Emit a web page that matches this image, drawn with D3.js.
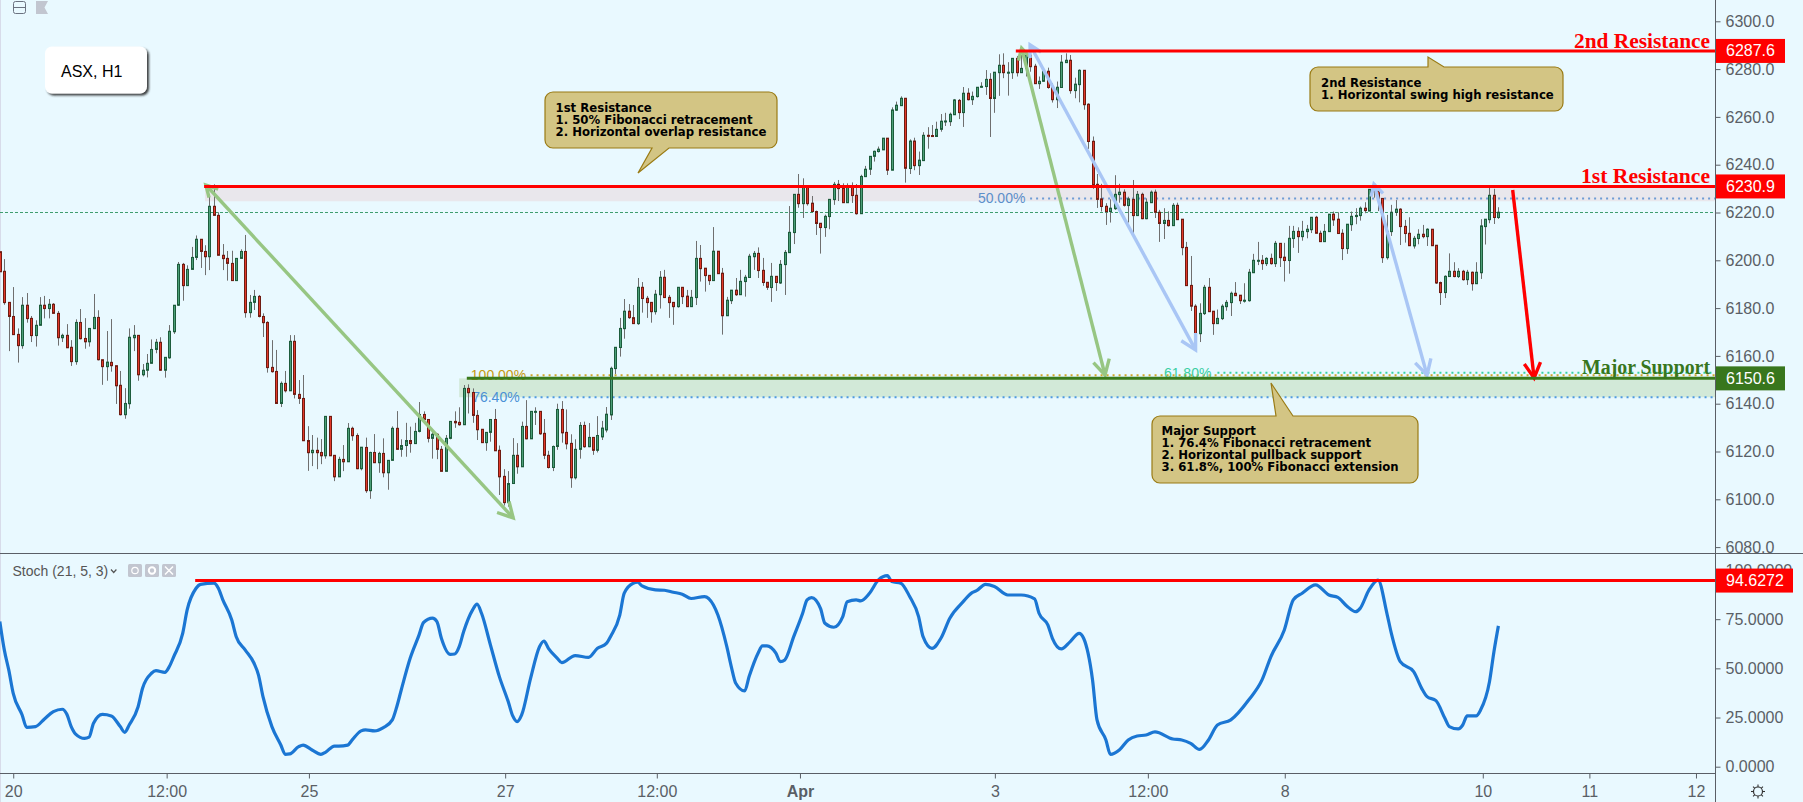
<!DOCTYPE html>
<html>
<head>
<meta charset="utf-8">
<script src="https://d3js.org/d3.v7.min.js"></script>
<style>
    html, body { margin: 0; padding: 0; background: #e9f9ff; overflow: hidden; }
    svg { display: block; }
    text { font-family: "Liberation Sans", Arial, sans-serif; }
</style>
</head>
<body>
<svg id="chart" width="1803" height="802"></svg>
<script>
// Hourly candles
const barOpen = [
6203.6,6195.4,6182.4,6176.5,6169.0,6164.3,6181.2,6175.7,6168.5,6172.8,
6181.2,6179.8,6181.6,6177.8,6167.6,6168.6,6163.6,6157.6,6174.0,6167.3,
6165.9,6171.4,6176.1,6158.4,6155.5,6157.3,6155.9,6147.7,6135.4,6140.0,
6167.6,6168.6,6152.1,6154.0,6156.9,6162.7,6165.7,6154.0,6159.2,6170.1,
6181.2,6198.3,6189.4,6196.2,6201.2,6208.8,6203.7,6201.5,6222.6,6218.8,
6202.1,6200.8,6198.7,6191.5,6200.8,6203.7,6178.1,6182.4,6184.9,6176.5,
6174.0,6155.2,6153.5,6140.1,6148.5,6145.4,6166.1,6143.9,6142.2,6124.6,
6119.5,6120.5,6119.6,6118.2,6134.7,6118.4,6109.4,6116.7,6115.7,6129.7,
6126.7,6112.8,6121.7,6103.6,6119.6,6115.3,6119.2,6111.1,6116.3,6129.7,
6120.9,6122.5,6124.6,6123.3,6128.4,6135.5,6133.4,6125.5,6127.2,6120.9,
6111.7,6125.5,6132.6,6132.2,6131.2,6146.4,6144.7,6135.1,6129.3,6123.7,
6128.0,6133.4,6120.5,6109.6,6098.6,6106.6,6118.4,6113.6,6130.5,6125.3,
6136.6,6136.8,6127.6,6118.4,6113.3,6122.1,6137.6,6128.0,6123.4,6109.0,
6120.9,6130.9,6122.0,6125.9,6120.5,6126.1,6129.0,6135.3,6154.7,6163.5,
6171.4,6178.7,6176.0,6173.5,6188.7,6184.1,6182.4,6178.5,6185.6,6192.9,
6184.5,6182.4,6180.6,6188.7,6185.0,6180.6,6184.4,6200.8,6196.7,6193.7,
6191.5,6203.8,6194.6,6176.8,6183.1,6187.5,6185.6,6191.1,6192.8,6201.5,
6202.9,6195.8,6190.8,6188.6,6193.3,6190.5,6198.2,6203.2,6211.6,6227.6,
6223.7,6230.5,6223.9,6220.4,6215.5,6213.7,6218.3,6225.4,6231.8,6230.1,
6224.1,6231.0,6227.2,6219.5,6235.0,6238.1,6243.5,6245.5,6246.2,6251.1,
6237.7,6262.8,6264.7,6267.8,6238.4,6249.9,6239.6,6241.7,6252.3,6252.2,
6251.8,6254.8,6258.0,6258.0,6260.9,6266.9,6261.8,6269.9,6267.2,6268.5,
6272.4,6272.7,6275.7,6267.7,6278.5,6281.6,6278.5,6278.5,6284.5,6278.5,
6280.3,6285.8,6281.2,6273.9,6274.9,6279.1,6272.4,6267.2,6272.3,6282.7,
6283.7,6271.0,6273.5,6279.5,6265.3,6249.8,6231.8,6225.7,6222.6,6220.4,
6221.6,6227.5,6228.5,6222.9,6225.5,6218.7,6227.6,6217.4,6224.1,6228.5,
6220.1,6215.4,6216.7,6214.5,6223.0,6217.2,6205.4,6189.5,6180.8,6169.3,
6177.7,6188.7,6178.7,6173.5,6175.6,6180.6,6182.3,6186.2,6185.4,6183.1,
6183.1,6194.8,6199.9,6200.0,6198.6,6200.8,6198.6,6207.1,6201.3,6199.9,
6209.1,6212.1,6209.9,6212.0,6212.8,6218.0,6211.3,6207.8,6212.0,6219.3,
6217.2,6211.3,6204.9,6214.9,6218.3,6218.7,6221.8,6220.6,6229.7,6228.9,
6225.9,6201.1,6212.0,6220.0,6221.4,6214.2,6211.3,6206.0,6209.1,6210.9,
6209.9,6213.0,6206.3,6190.7,6186.5,6193.2,6195.4,6193.2,6195.4,6191.9,
6195.0,6190.2,6194.8,6214.1,6217.0,6227.2,6217.9];

const barClose = [
6195.2,6182.3,6176.5,6168.9,6164.3,6181.2,6175.6,6168.5,6172.8,6181.2,
6179.8,6181.6,6177.8,6167.6,6168.6,6163.4,6157.6,6174.0,6167.2,6165.9,
6171.5,6176.1,6158.4,6155.5,6157.4,6155.9,6147.5,6135.4,6140.1,6167.8,
6168.6,6152.1,6154.0,6156.9,6162.7,6165.7,6154.0,6159.4,6170.3,6181.2,
6198.3,6189.4,6196.2,6201.2,6208.8,6203.7,6201.5,6222.6,6218.8,6202.1,
6200.7,6198.7,6191.5,6200.8,6203.7,6178.1,6182.4,6184.9,6176.5,6173.9,
6155.1,6153.4,6140.1,6148.5,6145.4,6166.1,6143.9,6142.2,6124.5,6119.5,
6120.5,6119.5,6118.2,6134.7,6118.2,6109.4,6116.7,6115.7,6129.7,6126.6,
6112.8,6121.8,6103.6,6119.6,6115.3,6119.2,6111.1,6116.3,6129.7,6120.9,
6122.5,6124.6,6123.3,6128.4,6135.5,6133.4,6125.5,6127.2,6120.9,6111.7,
6125.5,6132.6,6132.0,6131.2,6146.4,6144.6,6135.1,6129.1,6123.7,6128.0,
6133.4,6120.3,6109.4,6098.6,6106.6,6118.4,6113.6,6130.5,6125.3,6136.8,
6136.8,6127.4,6118.4,6113.3,6122.1,6137.6,6127.8,6123.2,6109.0,6120.9,
6130.9,6122.0,6125.9,6120.5,6126.7,6129.8,6135.6,6154.8,6163.6,6171.5,
6178.7,6176.0,6173.5,6188.7,6184.0,6182.3,6178.5,6185.8,6192.9,6184.4,
6182.3,6180.6,6188.7,6184.8,6180.6,6184.5,6200.8,6196.5,6193.6,6191.5,
6203.8,6194.4,6176.8,6183.3,6187.5,6185.6,6191.2,6192.9,6201.7,6202.9,
6195.7,6190.7,6188.7,6193.3,6190.7,6198.3,6203.3,6211.7,6227.6,6223.7,
6230.5,6223.7,6220.4,6215.4,6213.7,6218.4,6225.5,6231.8,6230.0,6224.1,
6231.0,6227.1,6219.5,6235.1,6238.1,6243.5,6245.6,6246.5,6251.1,6237.7,
6262.9,6264.9,6267.8,6238.5,6249.9,6239.6,6241.9,6252.3,6252.0,6251.8,
6254.8,6258.2,6258.3,6261.1,6267.1,6261.8,6269.9,6267.2,6268.6,6272.4,
6272.8,6275.7,6267.7,6278.7,6281.6,6278.5,6278.7,6284.5,6278.5,6280.3,
6285.8,6281.0,6273.9,6274.9,6279.1,6272.3,6267.2,6272.4,6282.9,6283.7,
6271.0,6273.7,6279.5,6265.1,6249.7,6231.7,6225.5,6222.5,6220.4,6221.8,
6227.6,6228.5,6223.0,6225.7,6218.7,6227.6,6217.4,6224.3,6228.5,6220.1,
6215.4,6216.7,6214.5,6223.0,6217.0,6205.3,6189.4,6180.8,6169.3,6177.8,
6188.7,6178.5,6173.5,6175.7,6180.8,6182.4,6186.2,6185.2,6183.1,6183.3,
6195.0,6200.0,6200.0,6198.6,6200.8,6198.6,6207.1,6201.1,6199.9,6209.2,
6212.1,6209.9,6212.1,6213.0,6218.0,6211.3,6207.8,6212.1,6219.3,6216.9,
6211.2,6204.9,6215.1,6218.4,6218.8,6221.8,6220.8,6229.7,6228.7,6225.8,
6201.1,6212.1,6220.1,6221.4,6214.1,6211.2,6206.1,6209.2,6210.9,6209.9,
6213.0,6206.1,6190.5,6186.5,6193.3,6195.4,6193.2,6195.4,6191.9,6195.0,
6190.2,6195.0,6214.4,6217.2,6227.2,6217.9,6220.1];

const barHigh = [
6203.6,6200.5,6182.4,6188.8,6171.5,6184.6,6186.3,6176.7,6174.9,6184.6,
6185.1,6183.8,6182.1,6178.8,6169.3,6173.3,6166.6,6175.3,6179.6,6175.8,
6171.5,6185.9,6179.1,6158.4,6170.4,6175.4,6155.9,6153.7,6146.5,6171.5,
6172.9,6168.6,6156.6,6160.8,6166.9,6167.1,6167.8,6159.4,6172.9,6181.2,
6199.3,6198.9,6197.9,6205.6,6210.4,6208.8,6206.3,6227.7,6231.8,6220.1,
6206.8,6203.9,6204.0,6200.8,6204.6,6210.6,6185.5,6187.6,6185.5,6177.8,
6174.5,6166.6,6162.5,6149.3,6153.7,6168.7,6168.7,6149.9,6152.0,6130.6,
6126.9,6125.8,6125.2,6134.7,6134.7,6118.4,6117.8,6122.7,6131.9,6130.4,
6127.6,6121.8,6125.8,6119.9,6127.3,6119.9,6125.5,6116.4,6130.5,6136.9,
6125.1,6132.0,6130.4,6132.0,6140.7,6136.8,6133.4,6128.3,6127.6,6122.3,
6126.9,6132.6,6136.8,6138.5,6147.8,6148.1,6146.4,6137.3,6129.3,6128.0,
6133.4,6137.8,6122.5,6112.6,6111.8,6125.6,6123.5,6132.5,6141.5,6136.8,
6138.5,6136.8,6133.6,6120.3,6122.5,6140.0,6141.1,6137.6,6127.2,6125.1,
6132.3,6132.5,6131.9,6125.9,6134.8,6132.8,6138.6,6155.5,6163.6,6175.9,
6183.8,6181.7,6181.3,6192.6,6190.9,6185.1,6182.4,6187.6,6195.5,6196.0,
6185.5,6182.4,6188.7,6188.7,6187.6,6187.6,6208.1,6206.4,6196.7,6193.7,
6213.9,6203.8,6196.8,6184.7,6187.6,6192.6,6196.0,6193.9,6202.7,6203.9,
6205.4,6201.0,6190.8,6198.9,6193.3,6200.1,6204.3,6222.7,6227.6,6236.1,
6234.3,6231.5,6226.9,6220.8,6215.5,6219.1,6225.5,6232.8,6233.6,6232.2,
6232.2,6232.6,6231.9,6235.8,6239.5,6243.5,6245.9,6247.6,6251.1,6251.1,
6264.0,6266.4,6268.6,6267.8,6250.6,6251.3,6245.5,6253.6,6255.7,6256.6,
6258.0,6261.2,6261.7,6261.8,6267.5,6267.5,6272.5,6272.0,6270.6,6272.4,
6274.5,6279.6,6278.3,6278.7,6286.2,6286.6,6282.9,6284.5,6285.5,6285.9,
6288.0,6288.7,6282.2,6276.9,6280.3,6280.6,6274.1,6274.8,6285.9,6286.6,
6285.9,6276.4,6279.9,6279.5,6265.7,6251.8,6236.1,6232.0,6223.9,6225.5,
6235.6,6232.0,6229.7,6226.6,6233.6,6229.0,6228.3,6225.9,6229.2,6229.6,
6221.1,6221.8,6220.5,6223.9,6224.1,6217.2,6207.7,6201.8,6181.6,6182.0,
6189.7,6192.6,6178.7,6179.4,6181.6,6183.4,6186.9,6190.9,6185.4,6190.4,
6196.4,6202.7,6207.7,6202.2,6201.3,6202.8,6208.1,6207.1,6207.3,6214.4,
6214.4,6213.8,6216.5,6214.8,6218.0,6218.6,6212.4,6215.2,6219.3,6220.4,
6220.1,6213.0,6215.1,6220.4,6221.8,6222.5,6224.3,6229.7,6230.8,6231.5,
6225.9,6219.0,6223.2,6225.2,6221.8,6216.9,6218.0,6210.2,6213.0,6214.8,
6213.4,6213.0,6206.3,6191.1,6193.7,6202.9,6199.2,6196.7,6196.0,6196.0,
6195.3,6199.2,6217.2,6217.2,6230.3,6229.9,6222.2];

const barLow = [
6195.2,6181.4,6162.0,6168.9,6157.2,6163.0,6173.9,6165.8,6163.9,6172.8,
6175.7,6175.7,6177.8,6164.3,6165.8,6163.4,6155.8,6156.3,6166.9,6163.0,
6163.9,6171.4,6158.1,6147.9,6149.6,6153.4,6139.9,6135.1,6133.7,6137.9,
6162.0,6149.6,6151.4,6151.0,6156.9,6161.1,6153.8,6150.9,6158.8,6169.2,
6180.9,6183.1,6189.4,6196.2,6200.1,6196.8,6193.8,6195.9,6218.8,6202.1,
6195.9,6191.5,6191.5,6191.5,6200.8,6176.0,6176.0,6179.2,6176.1,6167.9,
6153.0,6153.0,6140.1,6138.6,6144.7,6145.4,6142.2,6139.9,6124.5,6111.9,
6113.9,6112.6,6114.7,6117.0,6118.2,6107.6,6109.4,6111.8,6115.7,6124.5,
6112.6,6112.1,6102.7,6100.2,6115.3,6111.1,6109.2,6104.0,6116.3,6120.9,
6117.8,6117.8,6119.5,6123.3,6128.0,6131.8,6123.8,6117.0,6116.8,6111.7,
6111.7,6125.1,6129.9,6130.8,6131.2,6135.9,6132.0,6124.8,6123.7,6120.3,
6124.1,6120.3,6101.8,6097.4,6096.9,6106.6,6110.7,6113.6,6125.1,6125.3,
6131.1,6127.0,6116.8,6112.9,6111.8,6120.7,6123.7,6120.9,6104.8,6108.3,
6117.0,6121.6,6121.8,6118.6,6119.6,6124.8,6128.0,6133.2,6152.4,6159.7,
6167.2,6175.5,6173.5,6173.0,6178.1,6175.9,6173.9,6177.3,6179.8,6184.4,
6175.9,6173.0,6180.2,6181.7,6180.6,6180.6,6181.3,6191.1,6186.9,6189.7,
6191.5,6194.4,6168.9,6176.8,6181.7,6185.1,6185.6,6184.8,6192.8,6196.0,
6192.6,6189.3,6187.6,6182.6,6187.2,6190.1,6185.5,6203.2,6206.8,6222.0,
6217.7,6222.9,6220.4,6210.6,6202.8,6209.8,6213.0,6223.2,6224.8,6224.1,
6224.1,6224.0,6219.1,6219.5,6235.0,6235.7,6241.3,6245.1,6246.2,6235.7,
6237.7,6262.5,6264.7,6232.5,6236.1,6237.7,6235.7,6241.7,6246.7,6251.8,
6251.8,6253.8,6256.2,6256.2,6260.9,6259.1,6255.8,6266.9,6265.0,6268.1,
6272.3,6269.2,6251.6,6261.7,6268.8,6276.2,6268.9,6275.9,6276.9,6278.5,
6276.9,6278.9,6273.9,6271.7,6274.8,6271.8,6266.0,6263.7,6272.3,6282.7,
6269.7,6267.8,6266.1,6263.0,6246.6,6229.9,6221.9,6220.4,6214.8,6215.8,
6221.1,6224.1,6222.5,6215.8,6209.9,6218.7,6217.2,6217.2,6224.1,6217.7,
6207.7,6208.9,6214.1,6214.5,6216.9,6202.1,6189.4,6178.8,6162.8,6165.8,
6177.1,6178.5,6168.8,6173.5,6175.0,6178.9,6176.7,6185.1,6181.7,6182.3,
6182.7,6194.8,6198.0,6196.0,6197.6,6198.2,6197.2,6197.2,6191.1,6194.4,
6205.2,6203.1,6208.2,6209.2,6211.4,6211.3,6207.8,6207.8,6212.0,6214.4,
6211.0,6200.1,6202.7,6212.3,6215.1,6216.6,6219.7,6220.6,6226.2,6220.6,
6198.9,6200.3,6210.2,6218.6,6206.4,6207.4,6206.0,6204.9,6206.7,6209.2,
6206.0,6206.1,6190.1,6181.3,6184.2,6193.2,6192.9,6192.6,6191.5,6189.7,
6187.3,6190.2,6192.2,6206.6,6215.5,6215.2,6217.3];

// Stochastic, read at its visible turning points
const stochBars = [0,1,2,3,5,6,8,10,12,14,15,16,17,19,20,21,23,25,27,28,29,31,32,34,35,37,38,39,41,42,44,45,48,49,50,52,53,55,57,58,59,61,63,64,65,67,68,70,72,73,75,76,78,79,81,82,84,86,88,89,90,92,94,95,97,98,99,101,102,103,104,106,107,108,110,112,114,115,116,117,119,121,122,123,125,126,129,132,134,136,137,139,140,142,143,144,147,149,151,153,155,158,160,161,163,164,165,167,168,170,171,172,174,175,176,178,180,181,182,184,185,187,189,190,192,193,195,197,199,200,202,204,206,207,209,211,213,216,218,219,221,223,226,229,232,233,235,236,238,240,242,243,245,246,248,249,251,253,255,257,259,263,265,267,269,271,273,276,280,283,285,288,290,292,295,298,300,302,304,305,307,309,311,312,314,317,319,320,322,324,325,327,328,329,331,332,334,335,336];
const stochValues = [73.8,59.4,49.2,37.3,26.3,20.0,20.4,24.3,28.0,29.2,26.8,20.4,16.6,14.4,15,22.1,26.6,25.8,20.4,17.5,21.2,30.5,39.9,47.5,48.8,48,50.9,56,67.8,79.7,90.7,92.7,93.3,90.7,84.8,74.6,66.1,59.4,52.6,46.6,35.6,20.4,11,6.3,6.5,10.2,11,8.5,6.3,7.3,10.5,10.5,11,13.6,18.2,18.7,18.2,19.9,23.8,30.5,39,55.1,67,73.3,75.5,73.8,65.3,57.1,57.3,61,68.7,79.7,82.7,78,61.9,45.8,33,25.8,22.9,26.3,44.9,61,63.9,60.2,55.1,52.9,56.5,55.6,60.2,62.7,66.5,77.1,88.2,93.3,93.8,91.9,89.9,89.7,88.7,87.7,85.5,86.5,82.2,77.1,61,50.9,42.4,38.5,45.8,57.7,61.4,61.4,57.7,53.4,54.3,66.1,78,84.8,86,80.5,72.9,70.9,76.3,83.9,84.8,84.3,88.2,95,97.1,94.1,93.3,86.5,76.3,66.1,60.2,65.3,75.5,83.9,88.5,89.5,92.7,91.6,87.3,87.3,85.3,78,72,65.3,59.9,63.6,67.8,65.3,44.1,23.8,13.6,6.3,8.5,13.6,15.6,16.1,17.7,14.1,13.6,11.9,8.8,13.6,21.2,23.8,33.9,44.1,56,69.5,84.8,88.2,92.4,87.3,86.1,81.7,78.8,80.5,89.9,94.9,78,67.8,53.4,48.3,39,35.6,33.6,24.6,20.4,19.2,21.2,25.8,25.8,28.8,43.2,58.5,71.6];

// Axis ticks
const priceTicks = [6080,6100,6120,6140,6160,6180,6200,6220,6240,6260,6280,6300];
const stochTicks = [0,25,50,75,100];
const timeTickBars = [3,37.4,69.3,113.3,147.3,179.4,223.1,257.4,288.1,332.5,356.4,380.3];
const timeTickLabels = ["20","12:00","25","27","12:00","Apr","3","12:00","8","10","11","12"];

// Levels and drawings, in bars and prices
const resistance1 = 6230.9, resistance2 = 6287.6, majorSupport = 6150.6, stochHigh = 94.6272;
const lastPriceLine = 6220.0;
const fibLevels = ["50.00%","76.40%","100.00%","61.80%"];
const fibPrices = [6225.9,6142.7,6151.9,6153.0];
const fibFromBar = [231,117.2,119,273];
const fibColors = ["#6e9bd4","#4f9ae0","#d0a528","#35d0a5"];
const fibLabelColors = ["#5c8fca","#4a90d6","#c79a12","#39cfa3"];
const fibLabelBar = [219.3,105.9,105.6,261];
const arrowFromBar = [46.2,229.1,231.0,308.1,339.2];
const arrowFromPrice = [6231.5,6288.8,6290.1,6231.9,6229.4];
const arrowToBar = [115.1,247.8,268.1,320.0,344.0];
const arrowToPrice = [6092.2,6152.0,6162.5,6152.0,6150.8];
const arrowColors = ["#97c683","#97c683","#a9c6f5","#a9c6f5","#ff0000"];
const arrowBothEnds = [true,true,true,true,false];

let svg = d3.select("#chart");

// Panels
let panelRight = 1716;
let xBar = d3.scaleLinear().domain([0, 336]).range([-0.16, 1498.4]);
let yPrice = d3.scaleLinear().domain([6080, 6300]).range([547.1, 21.3]);
let yStoch = d3.scaleLinear().domain([0, 100]).range([766.7, 570]);

svg.append("rect").attr("width", 1803).attr("height", 802).attr("fill", "#e9f9ff");
svg.append("rect").attr("width", 1).attr("height", 802).attr("fill", "#d8dcea");

let defs = svg.append("defs");
defs.append("clipPath").attr("id", "mainClip").append("rect")
    .attr("width", panelRight).attr("height", 553);
defs.append("clipPath").attr("id", "stochClip").append("rect")
    .attr("y", 553).attr("width", panelRight).attr("height", 220);
let shadow = defs.append("filter").attr("id", "boxShadow")
    .attr("x", "-20%").attr("y", "-20%").attr("width", "140%").attr("height", "140%");
shadow.append("feDropShadow").attr("dx", 2).attr("dy", 2).attr("stdDeviation", 1)
    .attr("flood-color", "#222").attr("flood-opacity", 0.85);

let main = svg.append("g").attr("clip-path", "url(#mainClip)");

// Zones under the candles
main.append("rect")
    .attr("x", xBar(46)).attr("y", yPrice(resistance1))
    .attr("width", panelRight - xBar(46))
    .attr("height", yPrice(6224.7) - yPrice(resistance1))
    .attr("fill", "#e9e7ec");
main.append("rect")
    .attr("x", xBar(103)).attr("y", yPrice(majorSupport))
    .attr("width", panelRight - xBar(103))
    .attr("height", yPrice(6142.7) - yPrice(majorSupport))
    .attr("fill", "#d2e9d8");

// Last price line
main.append("line")
    .attr("x1", 0).attr("x2", panelRight)
    .attr("y1", yPrice(lastPriceLine)).attr("y2", yPrice(lastPriceLine))
    .attr("stroke", "#3f9d6e").attr("stroke-width", 1).attr("stroke-dasharray", "3,2");

// Fibonacci levels
fibLevels.forEach((label, i) => {
    main.append("line")
        .attr("x1", xBar(fibFromBar[i])).attr("x2", panelRight)
        .attr("y1", yPrice(fibPrices[i])).attr("y2", yPrice(fibPrices[i]))
        .attr("stroke", fibColors[i]).attr("stroke-width", 2).attr("stroke-dasharray", "2,4");
    main.append("text")
        .text(label)
        .attr("x", xBar(fibLabelBar[i]))
        .attr("y", yPrice(fibPrices[i]) + 5)
        .attr("fill", fibLabelColors[i])
        .style("font-size", "14px");
});

// Candles
let candles = main.append("g").selectAll("g")
    .data(d3.range(barOpen.length))
    .join("g")
    .attr("transform", (i) => "translate(" + (Math.round(xBar(i)) + 0.5) + ",0)");

candles.append("line")
    .attr("y1", (i) => yPrice(barHigh[i]))
    .attr("y2", (i) => yPrice(barLow[i]))
    .attr("stroke", "#6f6f6f")
    .attr("stroke-width", 1);

candles.append("rect")
    .attr("x", -1)
    .attr("width", 2)
    .attr("y", (i) => yPrice(Math.max(barOpen[i], barClose[i])))
    .attr("height", (i) => Math.max(1, Math.abs(yPrice(barOpen[i]) - yPrice(barClose[i]))))
    .attr("fill", (i) => barClose[i] >= barOpen[i] ? "#4c9f78" : "#e2392a")
    .attr("stroke", (i) => barClose[i] >= barOpen[i] ? "#1d5c3c" : "#6f1c12")
    .attr("stroke-width", 1);

// Arrows
function arrowHead(x, y, angle, color, wing) {
    let spread = 0.5;
    let pts = [
        [x + wing * Math.cos(angle + Math.PI - spread), y + wing * Math.sin(angle + Math.PI - spread)],
        [x, y],
        [x + wing * Math.cos(angle + Math.PI + spread), y + wing * Math.sin(angle + Math.PI + spread)]
    ];
    main.append("path")
        .attr("d", d3.line()(pts))
        .attr("fill", "none")
        .attr("stroke", color)
        .attr("stroke-width", 3.4);
}
arrowFromBar.forEach((fromBar, i) => {
    let x1 = xBar(fromBar), y1 = yPrice(arrowFromPrice[i]);
    let x2 = xBar(arrowToBar[i]), y2 = yPrice(arrowToPrice[i]);
    let angle = Math.atan2(y2 - y1, x2 - x1);
    main.append("line")
        .attr("x1", x1).attr("y1", y1).attr("x2", x2).attr("y2", y2)
        .attr("stroke", arrowColors[i]).attr("stroke-width", 3.4);
    arrowHead(x2, y2, angle, arrowColors[i], 17);
    if (arrowBothEnds[i]) arrowHead(x1, y1, angle + Math.PI, arrowColors[i], 13);
});

// Level lines
function levelLine(parent, scale, value, fromBar, color) {
    parent.append("line")
        .attr("x1", xBar(fromBar)).attr("x2", panelRight)
        .attr("y1", scale(value)).attr("y2", scale(value))
        .attr("stroke", color).attr("stroke-width", 3);
}
levelLine(main, yPrice, resistance1, 45.8, "#ff0000");
levelLine(main, yPrice, resistance2, 227.8, "#ff0000");
levelLine(main, yPrice, majorSupport, 104.7, "#3a7a1c");

// Level captions
function levelCaption(text, y, color, width) {
    main.append("text")
        .text(text)
        .attr("x", 1710).attr("y", y)
        .attr("text-anchor", "end")
        .attr("fill", color)
        .attr("textLength", width)
        .attr("lengthAdjust", "spacingAndGlyphs")
        .style("font-family", "'Liberation Serif', serif")
        .style("font-weight", "bold")
        .style("font-size", "20px");
}
levelCaption("2nd Resistance", 47.5, "#ff0000", 136);
levelCaption("1st Resistance", 183, "#ff0000", 129);
levelCaption("Major Support", 374, "#38761d", 128);

// Callouts
function callout(left, top, right, bottom, base1, base2, tip, lines, textX, textY) {
    let r = 8;
    let below = tip[1] > bottom;
    let p = d3.path();
    p.moveTo(left + r, top);
    if (!below && tip[1] < top) {
        p.lineTo(base1, top); p.lineTo(tip[0], tip[1]); p.lineTo(base2, top);
    }
    p.lineTo(right - r, top);
    p.arcTo(right, top, right, top + r, r);
    p.lineTo(right, bottom - r);
    p.arcTo(right, bottom, right - r, bottom, r);
    if (below) {
        p.lineTo(base2, bottom); p.lineTo(tip[0], tip[1]); p.lineTo(base1, bottom);
    }
    p.lineTo(left + r, bottom);
    p.arcTo(left, bottom, left, bottom - r, r);
    p.lineTo(left, top + r);
    p.arcTo(left, top, left + r, top, r);
    p.closePath();
    svg.append("path")
        .attr("d", p.toString())
        .attr("fill", "#d3c584")
        .attr("stroke", "#9a7b14")
        .attr("stroke-width", 1.2);
    lines.forEach((line, i) => {
        svg.append("text")
            .text(line)
            .attr("x", textX)
            .attr("y", textY + i * 12)
            .attr("fill", "#000")
            .style("font-family", "'DejaVu Sans', sans-serif")
            .style("font-weight", "bold")
            .style("font-size", "11.7px");
    });
}
callout(545, 92, 777, 148, 652, 669, [638, 173],
    ["1st Resistance", "1. 50% Fibonacci retracement", "2. Horizontal overlap resistance"], 555.5, 111.5);
callout(1310, 67, 1563, 111, 1428, 1444, [1428, 57],
    ["2nd Resistance", "1. Horizontal swing high resistance"], 1321, 87);
callout(1152, 416, 1418, 483, 1276, 1293, [1271, 383],
    ["Major Support", "1. 76.4% Fibonacci retracement", "2. Horizontal pullback support", "3. 61.8%, 100% Fibonacci extension"], 1161.5, 435);

// Symbol box
svg.append("rect")
    .attr("x", 45).attr("y", 46.5).attr("width", 102).attr("height", 47).attr("rx", 7)
    .attr("fill", "#fff")
    .attr("filter", "url(#boxShadow)");
svg.append("text")
    .text("ASX, H1")
    .attr("x", 61).attr("y", 76.5)
    .attr("fill", "#000")
    .style("font-size", "16px");

// Top-left pane buttons
svg.append("rect")
    .attr("x", 13.5).attr("y", 1.5).attr("width", 12).attr("height", 12).attr("rx", 2)
    .attr("fill", "none").attr("stroke", "#6b7280");
svg.append("line")
    .attr("x1", 13.5).attr("x2", 25.5).attr("y1", 7.5).attr("y2", 7.5)
    .attr("stroke", "#6b7280");
svg.append("path")
    .attr("d", "M36,1H48L44.5,7.5L48,14H36Z")
    .attr("fill", "#c2c6d0");

// Price axis
let priceAxis = d3.axisRight(yPrice)
    .tickValues(priceTicks)
    .tickFormat(d3.format(".1f"))
    .tickSize(5)
    .tickPadding(5);
let priceGroup = svg.append("g")
    .attr("transform", "translate(" + (panelRight - 0.5) + ",0)")
    .call(priceAxis);

// Stochastic panel
let stochGroup = svg.append("g").attr("clip-path", "url(#stochClip)");
stochGroup.append("path")
    .attr("d", d3.line()
        .x((d, i) => xBar(stochBars[i]))
        .y((d) => yStoch(d))
        .curve(d3.curveMonotoneX)(stochValues))
    .attr("fill", "none")
    .attr("stroke", "#1b76d3")
    .attr("stroke-width", 3.2);
levelLine(stochGroup, yStoch, stochHigh, 43.8, "#ff0000");

svg.append("text")
    .text("Stoch (21, 5, 3)")
    .attr("x", 12.5).attr("y", 575.5)
    .attr("fill", "#555")
    .style("font-size", "14px");
svg.append("path")
    .attr("d", "M111,569.5L113.7,572.5L116.4,569.5")
    .attr("fill", "none").attr("stroke", "#555").attr("stroke-width", 1.2);

// Indicator buttons
[128, 145, 162].forEach((x, i) => {
    svg.append("rect")
        .attr("x", x).attr("y", 564).attr("width", 14).attr("height", 13).attr("rx", 1.5)
        .attr("fill", "#c2c6d0");
    if (i < 2) {
        svg.append("circle")
            .attr("cx", x + 7).attr("cy", 570.5).attr("r", 3.2)
            .attr("fill", "none").attr("stroke", "#fff").attr("stroke-width", i == 0 ? 1.2 : 2);
    } else {
        svg.append("path")
            .attr("d", "M" + (x + 3) + ",566.5L" + (x + 11) + ",574.5M" + (x + 11) + ",566.5L" + (x + 3) + ",574.5")
            .attr("stroke", "#fff").attr("stroke-width", 1.5);
    }
});

let stochAxis = d3.axisRight(yStoch)
    .tickValues(stochTicks)
    .tickFormat(d3.format(".4f"))
    .tickSize(5)
    .tickPadding(5);
let stochAxisGroup = svg.append("g")
    .attr("transform", "translate(" + (panelRight - 0.5) + ",0)")
    .call(stochAxis);

// Time axis
let timeAxis = d3.axisBottom(xBar)
    .tickValues(timeTickBars)
    .tickFormat((d, i) => timeTickLabels[i])
    .tickSize(5)
    .tickPadding(7.5);
let timeGroup = svg.append("g")
    .attr("transform", "translate(0,773.5)")
    .call(timeAxis);
timeGroup.selectAll(".tick text")
    .style("font-weight", (d, i) => timeTickLabels[i] == "Apr" ? "bold" : "normal");

[priceGroup, stochAxisGroup, timeGroup].forEach((g) => {
    g.select(".domain").remove();
    g.selectAll(".tick line").attr("stroke", "#5a5f66");
    g.selectAll(".tick text")
        .attr("fill", "#5a5f66")
        .style("font-family", "'Liberation Sans', Arial, sans-serif")
        .style("font-size", "16px");
});

// Panel frame
svg.append("line").attr("x1", 0).attr("x2", 1803).attr("y1", 553.5).attr("y2", 553.5)
    .attr("stroke", "#5a5f66");
svg.append("line").attr("x1", 0).attr("x2", panelRight).attr("y1", 773.5).attr("y2", 773.5)
    .attr("stroke", "#5a5f66");
svg.append("line").attr("x1", panelRight - 0.5).attr("x2", panelRight - 0.5).attr("y1", 0).attr("y2", 802)
    .attr("stroke", "#5a5f66");

// Value tags on the axes
function valueTag(y, width, color, label) {
    svg.append("rect")
        .attr("x", panelRight).attr("y", y - 12).attr("width", width).attr("height", 24)
        .attr("fill", color);
    svg.append("text")
        .text(label)
        .attr("x", 1726).attr("y", y + 5.5)
        .attr("fill", "#fff")
        .style("font-size", "16px");
}
valueTag(yPrice(resistance2), 69, "#ff0000", d3.format(".1f")(resistance2));
valueTag(yPrice(resistance1), 69, "#ff0000", d3.format(".1f")(resistance1));
valueTag(yPrice(majorSupport), 69, "#38761d", d3.format(".1f")(majorSupport));
valueTag(yStoch(stochHigh), 77, "#ff0000", d3.format(".4f")(stochHigh));

// Settings icon
let gear = svg.append("g").attr("transform", "translate(1758,791.5)");
gear.append("circle").attr("r", 4.5).attr("fill", "none").attr("stroke", "#333").attr("stroke-width", 1.2);
d3.range(8).forEach((k) => {
    let a = k * Math.PI / 4;
    gear.append("line")
        .attr("x1", 4.5 * Math.cos(a)).attr("y1", 4.5 * Math.sin(a))
        .attr("x2", 7 * Math.cos(a)).attr("y2", 7 * Math.sin(a))
        .attr("stroke", "#333").attr("stroke-width", 1.1);
});
</script>
</body>
</html>
